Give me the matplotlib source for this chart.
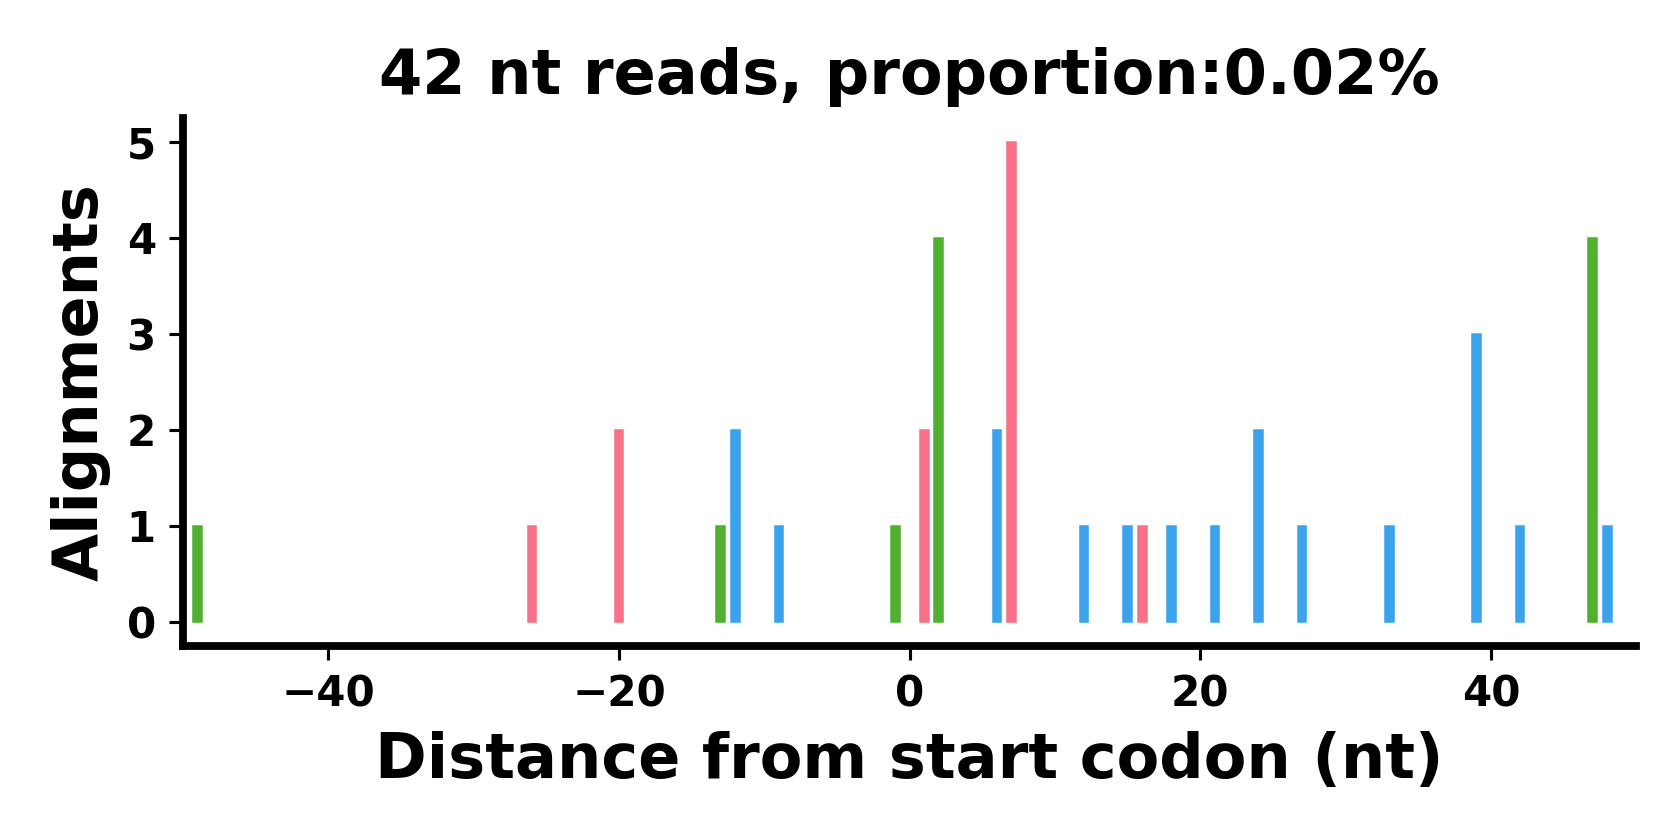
import matplotlib
matplotlib.use('Agg')
import matplotlib.pyplot as plt

# Read counts per offset, split by reading frame
frame0_pos = [-26, -20, 1, 7, 16]
frame0_cnt = [1, 2, 2, 5, 1]
frame1_pos = [-49, -13, -1, 2, 47]
frame1_cnt = [1, 1, 1, 4, 4]
frame2_pos = [-12, -9, 6, 12, 15, 18, 21, 24, 27, 33, 39, 42, 48]
frame2_cnt = [2, 1, 2, 1, 1, 1, 1, 2, 1, 1, 3, 1, 1]

colors = ['#f77189', '#50b131', '#3ba3ec']


def main():
    plt.rcParams['font.weight'] = 'bold'
    fig, ax = plt.subplots(figsize=(6, 3), dpi=280)

    for pos, cnt, c in zip([frame0_pos, frame1_pos, frame2_pos],
                           [frame0_cnt, frame1_cnt, frame2_cnt], colors):
        ax.bar(pos, cnt, width=0.6, color=c, edgecolor=c, linewidth=0.4)

    ax.set_xlim(-50, 50)
    ax.set_ylim(-0.25, 5.25)
    ax.set_title('42 nt reads, proportion:0.02%', fontsize=16, fontweight='bold')
    ax.set_xlabel('Distance from start codon (nt)', fontsize=16, fontweight='bold')
    ax.set_ylabel('Alignments', fontsize=16, fontweight='bold')
    ax.tick_params(labelsize=10.8)
    for lab in ax.get_xticklabels() + ax.get_yticklabels():
        lab.set_fontweight('bold')

    ax.spines['top'].set_visible(False)
    ax.spines['right'].set_visible(False)
    ax.spines['left'].set_linewidth(2)
    ax.spines['bottom'].set_linewidth(2)

    plt.subplots_adjust(left=0.109, right=0.974, top=0.86, bottom=0.231)
    plt.savefig('out.png')


if __name__ == '__main__':
    main()
